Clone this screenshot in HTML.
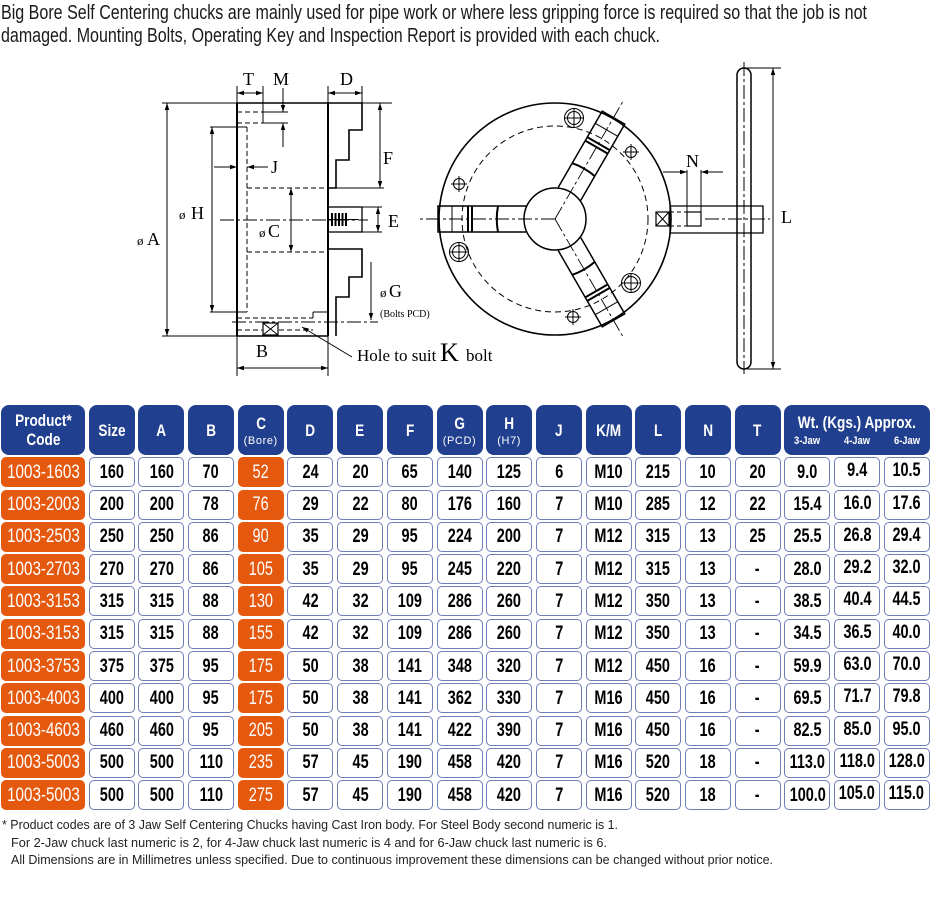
<!DOCTYPE html>
<html><head><meta charset="utf-8">
<style>
body{margin:0;width:931px;height:898px;overflow:hidden;background:#fff;position:relative}
svg{position:absolute;left:0;top:0}
.t{position:absolute;left:1px;top:405px;display:grid;grid-template-columns:84px repeat(17,46px);grid-template-rows:50px repeat(11,30px);column-gap:3.7px;row-gap:2.3px;font-family:"Liberation Sans",sans-serif}
.t>div{box-sizing:border-box;border:1px solid #6f7db9;border-radius:5px;background:#fff;display:flex;flex-direction:column;align-items:center;justify-content:center;font-weight:bold;font-size:19px;color:#000;line-height:1;white-space:nowrap;text-align:center}
.t span{display:inline-block;transform:scaleX(.76);text-align:center}
.t>.h{background:#213f8f;border:none;border-radius:8px;color:#fff;font-size:17px;line-height:19px}
.t>.h span{transform:scaleX(.8)}
.h small{font-size:11px;font-weight:normal;letter-spacing:.6px;margin-top:2px;line-height:12px}
.t>div:nth-child(18n+17),.t>div:nth-child(18n+21){background:#e5590f;border:none;color:#fff;font-weight:normal}
.t>div:nth-child(18n+17) span{transform:scaleX(.8)}
.t>div:nth-child(18n+33) span,.t>div:nth-child(18n+34) span{position:relative;top:-1.5px}
.w .sub{display:grid;grid-template-columns:46px 46px 46px;column-gap:3.7px;font-size:11px;margin-top:3px;line-height:12px}
.w .sub i{font-style:normal;text-align:center;display:inline-block;transform:scaleX(.85)}
</style></head>
<body>
<svg width="931" height="898" viewBox="0 0 931 898" font-family="'Liberation Serif', serif">
<defs>
<marker id="a" viewBox="0 0 10 10" refX="10" refY="5" markerWidth="7" markerHeight="7" markerUnits="userSpaceOnUse" orient="auto-start-reverse"><path d="M0,1.8 L10,5 L0,8.2z" fill="#000"/></marker>
<g id="jaw" fill="none" stroke="#000">
<path stroke-width="1.5" d="M29,-13 H117 V13 H29"/>
<path stroke-width="1" d="M103,-13 V13"/>
<path stroke-width="2" d="M87,-13 V13 M83,-13 V13 M57,-13 Q59.5,0 57,13"/>
</g>
<g id="bs" fill="none" stroke="#000" stroke-width="1"><circle r="5.5"/><path d="M-8,0 H8 M0,-8 V8"/></g>
<g id="bd" fill="none" stroke="#000" stroke-width="1"><circle r="9.5"/><circle r="6.5"/><path d="M-10,0 H10 M0,-10 V10"/></g>
</defs>

<g font-family="'Liberation Sans', sans-serif" font-size="20" fill="#1a1a1a">
<text x="1" y="19" textLength="866" lengthAdjust="spacingAndGlyphs">Big Bore Self Centering chucks are mainly used for pipe work or where less gripping force is required so that the job is not</text>
<text x="1" y="42" textLength="659" lengthAdjust="spacingAndGlyphs">damaged. Mounting Bolts, Operating Key and Inspection Report is provided with each chuck.</text>
</g>

<!-- side view -->
<g stroke="#000" fill="none">
<path stroke-width="2" d="M237,103 V336 M328,103 V336"/>
<path stroke-width="1.6" d="M237,103 H328 M237,336 H328"/>
<path stroke-width="1" d="M162,103 H237 M162,336 H237 M362,103 H392 M336,188 H384 M210,127 H247 M210,312 H247 M237,86 V103 M263,86 V123 M328,86 V103 M362,86 V103 M237,336 V376 M328,336 V376 M362,207 H382 M362,232 H382 M263,112 H288 M263,123 H288 M313,312 H328 M313,312 V318"/>
<path stroke-width="1" stroke-dasharray="5,3" d="M247,127 V312 M247,188 H328 M247,252 H328 M237,112 H263 M237,123 H263 M237,318 H313 M237,330 H262 M279,330 H313"/>
<path stroke-width="1" stroke-dasharray="14,3,3,3" d="M232,322 H378 M220,220 H368"/>
<path stroke-width="1.6" d="M328,103 H362 V130 H349 V160 H336 V188 H328 M328,249 H362 V277 H349 V297 H336 V336"/>
<rect x="328" y="207" width="34" height="25" stroke-width="1.3"/>
<path stroke-width="2" d="M332,213 V226 M335.5,213 V226 M339,213 V226 M342.5,213 V226 M346,213 V226"/>
<path stroke-width="1" d="M328,219.5 H358"/>
<rect x="263" y="323" width="15" height="12" stroke-width="1.2"/>
<path stroke-width="1" d="M263,323 L278,335 M278,323 L263,335"/>
</g>
<g stroke="#000" stroke-width="1" fill="none" marker-start="url(#a)" marker-end="url(#a)">
<path d="M167,103 V336"/>
<path d="M212,127 V312"/>
<path d="M291,188 V252"/>
<path d="M380,103 V188"/>
<path d="M328,93 H362"/>
<path d="M237,93 H263"/>
<path d="M237,368 H328"/>
<path d="M378,207 V232"/>
<path d="M773,68 V369"/>
</g>
<g stroke="#000" stroke-width="1" fill="none" marker-end="url(#a)">
<path d="M214,167 H237"/>
<path d="M268,167 H247"/>
<path d="M283,88 V112"/>
<path d="M283,147 V123"/>
<path d="M371,262 V320"/>
<path d="M663,172 H687"/>
<path d="M723,172 H701"/>
<path d="M352,357 L302,327"/>
</g>
<g fill="#000" font-size="18">
<text x="243" y="85">T</text>
<text x="273" y="85">M</text>
<text x="340" y="85">D</text>
<text x="383" y="164">F</text>
<text x="388" y="227">E</text>
<text x="271" y="173">J</text>
<text x="179" y="219" font-size="13">ø</text><text x="191" y="219">H</text>
<text x="259" y="237" font-size="13">ø</text><text x="268" y="237">C</text>
<text x="137" y="245" font-size="13">ø</text><text x="147" y="245">A</text>
<text x="380" y="297" font-size="13">ø</text><text x="389" y="297">G</text>
<text x="380" y="317" font-size="10">(Bolts PCD)</text>
<text x="256" y="357">B</text>
<text x="357" y="361" font-size="17">Hole to suit</text>
<text x="440" y="361" font-size="26">K</text>
<text x="466" y="361" font-size="17">bolt</text>
<text x="686" y="167">N</text>
<text x="781" y="223">L</text>
</g>

<!-- front view -->
<g stroke="#000" fill="none">
<circle cx="555" cy="219" r="116" stroke-width="1.6"/>
<circle cx="555" cy="219" r="93" stroke-width="1" stroke-dasharray="6,4"/>
<g transform="translate(555,219)">
<use href="#jaw" transform="rotate(180)"/>
<use href="#jaw" transform="rotate(-60)"/>
<use href="#jaw" transform="rotate(60)"/>
<circle r="31" fill="#fff" stroke-width="1.5"/>
<g stroke-width="0.9" stroke-dasharray="14,3,3,3">
<path d="M0,0 H-135"/>
<path d="M0,0 H135" transform="rotate(-60)"/>
<path d="M0,0 H135" transform="rotate(60)"/>
</g>
</g>
<use href="#bd" x="574" y="118"/>
<use href="#bs" x="631" y="152"/>
<use href="#bs" x="459" y="184"/>
<use href="#bd" x="459" y="252"/>
<use href="#bd" x="631" y="283"/>
<use href="#bs" x="573" y="317"/>
<!-- key -->
<rect x="656" y="212" width="13" height="14" stroke-width="1.2"/>
<path stroke-width="1" d="M656,212 L669,226 M669,212 L656,226"/>
<path stroke-width="1.3" d="M670,206 H763 V233 H670 Z"/>
<path stroke-width="1" stroke-dasharray="4,3" d="M670,212 H687 M670,226 H687"/>
<rect x="687" y="212" width="14" height="14" stroke-width="1.2"/>
<path stroke-width="1" stroke-dasharray="14,3,3,3" d="M705,219 H770 M744,62 V374"/>
<rect x="737" y="68" width="14" height="301" rx="7" stroke-width="1.5"/>
<path stroke-width="1" d="M745,68 H781 M745,369 H781 M687,170 V212 M701,170 V212"/>
</g>

<g font-family="'Liberation Sans', sans-serif" font-size="13" fill="#222">
<text x="2" y="829" textLength="616" lengthAdjust="spacingAndGlyphs">* Product codes are of 3 Jaw Self Centering Chucks having Cast Iron body. For Steel Body second numeric is 1.</text>
<text x="11" y="847" textLength="596" lengthAdjust="spacingAndGlyphs">For 2-Jaw chuck last numeric is 2, for 4-Jaw chuck last numeric is 4 and for 6-Jaw chuck last numeric is 6.</text>
<text x="11" y="864" textLength="762" lengthAdjust="spacingAndGlyphs">All Dimensions are in Millimetres unless specified. Due to continuous improvement these dimensions can be changed without prior notice.</text>
</g>
</svg>

<div class="t">
<div class="h"><span>Product*<br>Code</span></div>
<div class="h"><span>Size</span></div>
<div class="h"><span>A</span></div>
<div class="h"><span>B</span></div>
<div class="h"><span>C</span><small>(Bore)</small></div>
<div class="h"><span>D</span></div>
<div class="h"><span>E</span></div>
<div class="h"><span>F</span></div>
<div class="h"><span>G</span><small>(PCD)</small></div>
<div class="h"><span>H</span><small>(H7)</small></div>
<div class="h"><span>J</span></div>
<div class="h"><span>K/M</span></div>
<div class="h"><span>L</span></div>
<div class="h"><span>N</span></div>
<div class="h"><span>T</span></div>
<div class="h w" style="grid-column:span 3"><span>Wt. (Kgs.) Approx.</span><div class="sub"><i>3-Jaw</i><i>4-Jaw</i><i>6-Jaw</i></div></div>

<div><span>1003-1603</span></div><div><span>160</span></div><div><span>160</span></div><div><span>70</span></div><div><span>52</span></div><div><span>24</span></div><div><span>20</span></div><div><span>65</span></div><div><span>140</span></div><div><span>125</span></div><div><span>6</span></div><div><span>M10</span></div><div><span>215</span></div><div><span>10</span></div><div><span>20</span></div><div><span>9.0</span></div><div><span>9.4</span></div><div><span>10.5</span></div>
<div><span>1003-2003</span></div><div><span>200</span></div><div><span>200</span></div><div><span>78</span></div><div><span>76</span></div><div><span>29</span></div><div><span>22</span></div><div><span>80</span></div><div><span>176</span></div><div><span>160</span></div><div><span>7</span></div><div><span>M10</span></div><div><span>285</span></div><div><span>12</span></div><div><span>22</span></div><div><span>15.4</span></div><div><span>16.0</span></div><div><span>17.6</span></div>
<div><span>1003-2503</span></div><div><span>250</span></div><div><span>250</span></div><div><span>86</span></div><div><span>90</span></div><div><span>35</span></div><div><span>29</span></div><div><span>95</span></div><div><span>224</span></div><div><span>200</span></div><div><span>7</span></div><div><span>M12</span></div><div><span>315</span></div><div><span>13</span></div><div><span>25</span></div><div><span>25.5</span></div><div><span>26.8</span></div><div><span>29.4</span></div>
<div><span>1003-2703</span></div><div><span>270</span></div><div><span>270</span></div><div><span>86</span></div><div><span>105</span></div><div><span>35</span></div><div><span>29</span></div><div><span>95</span></div><div><span>245</span></div><div><span>220</span></div><div><span>7</span></div><div><span>M12</span></div><div><span>315</span></div><div><span>13</span></div><div><span>-</span></div><div><span>28.0</span></div><div><span>29.2</span></div><div><span>32.0</span></div>
<div><span>1003-3153</span></div><div><span>315</span></div><div><span>315</span></div><div><span>88</span></div><div><span>130</span></div><div><span>42</span></div><div><span>32</span></div><div><span>109</span></div><div><span>286</span></div><div><span>260</span></div><div><span>7</span></div><div><span>M12</span></div><div><span>350</span></div><div><span>13</span></div><div><span>-</span></div><div><span>38.5</span></div><div><span>40.4</span></div><div><span>44.5</span></div>
<div><span>1003-3153</span></div><div><span>315</span></div><div><span>315</span></div><div><span>88</span></div><div><span>155</span></div><div><span>42</span></div><div><span>32</span></div><div><span>109</span></div><div><span>286</span></div><div><span>260</span></div><div><span>7</span></div><div><span>M12</span></div><div><span>350</span></div><div><span>13</span></div><div><span>-</span></div><div><span>34.5</span></div><div><span>36.5</span></div><div><span>40.0</span></div>
<div><span>1003-3753</span></div><div><span>375</span></div><div><span>375</span></div><div><span>95</span></div><div><span>175</span></div><div><span>50</span></div><div><span>38</span></div><div><span>141</span></div><div><span>348</span></div><div><span>320</span></div><div><span>7</span></div><div><span>M12</span></div><div><span>450</span></div><div><span>16</span></div><div><span>-</span></div><div><span>59.9</span></div><div><span>63.0</span></div><div><span>70.0</span></div>
<div><span>1003-4003</span></div><div><span>400</span></div><div><span>400</span></div><div><span>95</span></div><div><span>175</span></div><div><span>50</span></div><div><span>38</span></div><div><span>141</span></div><div><span>362</span></div><div><span>330</span></div><div><span>7</span></div><div><span>M16</span></div><div><span>450</span></div><div><span>16</span></div><div><span>-</span></div><div><span>69.5</span></div><div><span>71.7</span></div><div><span>79.8</span></div>
<div><span>1003-4603</span></div><div><span>460</span></div><div><span>460</span></div><div><span>95</span></div><div><span>205</span></div><div><span>50</span></div><div><span>38</span></div><div><span>141</span></div><div><span>422</span></div><div><span>390</span></div><div><span>7</span></div><div><span>M16</span></div><div><span>450</span></div><div><span>16</span></div><div><span>-</span></div><div><span>82.5</span></div><div><span>85.0</span></div><div><span>95.0</span></div>
<div><span>1003-5003</span></div><div><span>500</span></div><div><span>500</span></div><div><span>110</span></div><div><span>235</span></div><div><span>57</span></div><div><span>45</span></div><div><span>190</span></div><div><span>458</span></div><div><span>420</span></div><div><span>7</span></div><div><span>M16</span></div><div><span>520</span></div><div><span>18</span></div><div><span>-</span></div><div><span>113.0</span></div><div><span>118.0</span></div><div><span>128.0</span></div>
<div><span>1003-5003</span></div><div><span>500</span></div><div><span>500</span></div><div><span>110</span></div><div><span>275</span></div><div><span>57</span></div><div><span>45</span></div><div><span>190</span></div><div><span>458</span></div><div><span>420</span></div><div><span>7</span></div><div><span>M16</span></div><div><span>520</span></div><div><span>18</span></div><div><span>-</span></div><div><span>100.0</span></div><div><span>105.0</span></div><div><span>115.0</span></div>
</div>
</body></html>
